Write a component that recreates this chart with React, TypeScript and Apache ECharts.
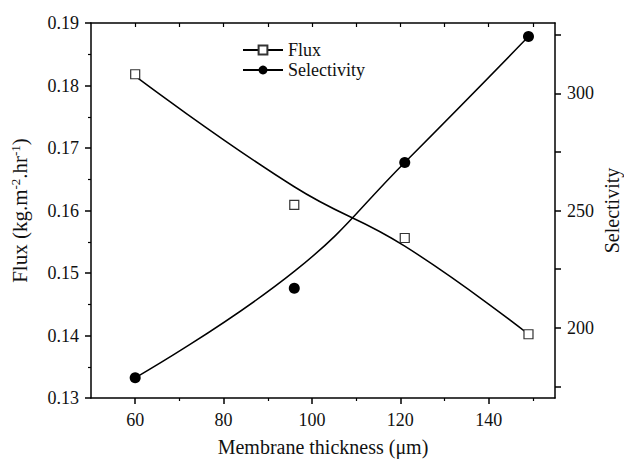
import React, { useEffect, useRef } from "react";
import * as echarts from "echarts";

const thickness = [60, 96, 121, 149];
const flux = [0.1818, 0.1609, 0.1556, 0.1402];
const selectivity = [178.6, 216.8, 270.5, 324.2];
// fitted curves at the same thicknesses
const fluxFit = [0.1815, 0.1638, 0.1543, 0.1402];
const selectivityFit = [178.6, 224.0, 270.5, 324.2];

const xMajorTicks = [60, 80, 100, 120, 140];
const xMinorTicks = [70, 90, 110, 130, 150];
const xAllTicks = [60, 70, 80, 90, 100, 110, 120, 130, 140, 150];
const selTicks = [175, 200, 225, 250, 275, 300, 325];
const selLabels = [200, 250, 300];

const FONT = "'Liberation Serif', 'Times New Roman', serif";

export default function App() {
  const ref = useRef<HTMLDivElement>(null);
  useEffect(() => {
    if (!ref.current) return;
    const chart = echarts.init(ref.current, null, { renderer: "svg" });
    const axisLine = { show: true, lineStyle: { color: "#000", width: 1.5 } };
    const labelStyle = { fontFamily: FONT, fontSize: 18, color: "#111" };
    chart.setOption({
      animation: false,
      backgroundColor: "#fff",
      grid: { left: 91, right: 69, top: 23, bottom: 61, outerBoundsMode: "none", containLabel: false },
      legend: {
        data: ["Flux", "Selectivity"],
        orient: "vertical",
        left: 237,
        top: 36,
        itemWidth: 40,
        itemHeight: 11,
        itemGap: 2,
        textStyle: { fontFamily: FONT, fontSize: 18, color: "#111" },
      },
      xAxis: [
        {
          type: "value",
          min: 50,
          max: 155,
          position: "bottom",
          name: "Membrane thickness (\u03bcm)",
          nameLocation: "middle",
          nameGap: 39,
          nameTextStyle: { fontFamily: FONT, fontSize: 20, color: "#111" },
          axisLine,
          axisTick: { show: true, length: 6, inside: false, customValues: xMajorTicks, lineStyle: { color: "#000", width: 1.5 } },
          axisLabel: { ...labelStyle, margin: 13, customValues: xMajorTicks },
          splitLine: { show: false },
        },
        {
          type: "value",
          min: 50,
          max: 155,
          position: "bottom",
          axisLine: { show: false },
          axisTick: { show: true, length: 3, inside: false, customValues: xMinorTicks, lineStyle: { color: "#000", width: 1.2 } },
          axisLabel: { show: false },
          splitLine: { show: false },
        },
        {
          type: "value",
          min: 50,
          max: 155,
          position: "top",
          axisLine,
          axisTick: { show: true, length: 4, inside: true, customValues: xAllTicks, lineStyle: { color: "#000", width: 1.2 } },
          axisLabel: { show: false },
          splitLine: { show: false },
        },
      ],
      yAxis: [
        {
          type: "value",
          min: 0.13,
          max: 0.19,
          interval: 0.01,
          position: "left",
          name: "{a|Flux (kg.m}{s|-2}{a|.hr}{s|-1}{a|)}",
          nameLocation: "middle",
          nameRotate: 90,
          nameGap: 60,
          nameTextStyle: {
            rich: {
              a: { fontFamily: FONT, fontSize: 21, color: "#111" },
              s: { fontFamily: FONT, fontSize: 13, color: "#111", verticalAlign: "top", padding: [0, 0, 9, 0] },
            },
          },
          axisLine,
          axisTick: { show: true, length: 6, inside: false, lineStyle: { color: "#000", width: 1.5 } },
          minorTick: { show: true, splitNumber: 2, length: 3, lineStyle: { color: "#000", width: 1.2 } },
          axisLabel: { ...labelStyle, margin: 12, formatter: (v: number) => v.toFixed(2) },
          splitLine: { show: false },
          minorSplitLine: { show: false },
        },
        {
          type: "value",
          min: 170,
          max: 330,
          position: "right",
          name: "Selectivity",
          nameLocation: "middle",
          nameRotate: 90,
          nameGap: 48,
          nameMoveOverlap: false,
          nameTextStyle: { fontFamily: FONT, fontSize: 20, lineHeight: 18, color: "#111" },
          axisLine,
          axisTick: { show: true, length: 6, inside: false, customValues: selTicks, lineStyle: { color: "#000", width: 1.5 } },
          axisLabel: { ...labelStyle, margin: 12, customValues: selLabels },
          splitLine: { show: false },
        },
      ],
      series: [
        {
          name: "Flux",
          type: "line",
          xAxisIndex: 0,
          yAxisIndex: 0,
          data: thickness.map((t, i) => [t, fluxFit[i]]),
          smooth: 0.45,
          showSymbol: false,
          symbol: "rect",
          symbolSize: 9,
          lineStyle: { color: "#000", width: 1.5 },
          itemStyle: { color: "#fff", borderColor: "#333", borderWidth: 1 },
        },
        {
          name: "Selectivity",
          type: "line",
          xAxisIndex: 0,
          yAxisIndex: 1,
          data: thickness.map((t, i) => [t, selectivityFit[i]]),
          smooth: 0.45,
          showSymbol: false,
          symbol: "circle",
          symbolSize: 11,
          lineStyle: { color: "#000", width: 1.5 },
          itemStyle: { color: "#000" },
        },
        {
          name: "Flux data",
          type: "scatter",
          xAxisIndex: 0,
          yAxisIndex: 0,
          data: thickness.map((t, i) => [t, flux[i]]),
          symbol: "rect",
          symbolSize: 9,
          itemStyle: { color: "#fff", borderColor: "#333", borderWidth: 1.2, opacity: 1 },
          z: 5,
        },
        {
          name: "Selectivity data",
          type: "scatter",
          xAxisIndex: 0,
          yAxisIndex: 1,
          data: thickness.map((t, i) => [t, selectivity[i]]),
          symbol: "circle",
          symbolSize: 11,
          itemStyle: { color: "#000", opacity: 1 },
          z: 5,
        },
      ],
    });
    return () => chart.dispose();
  }, []);
  return <div ref={ref} style={{ width: 624, height: 459, position: "absolute", left: 0, top: 0 }} />;
}
